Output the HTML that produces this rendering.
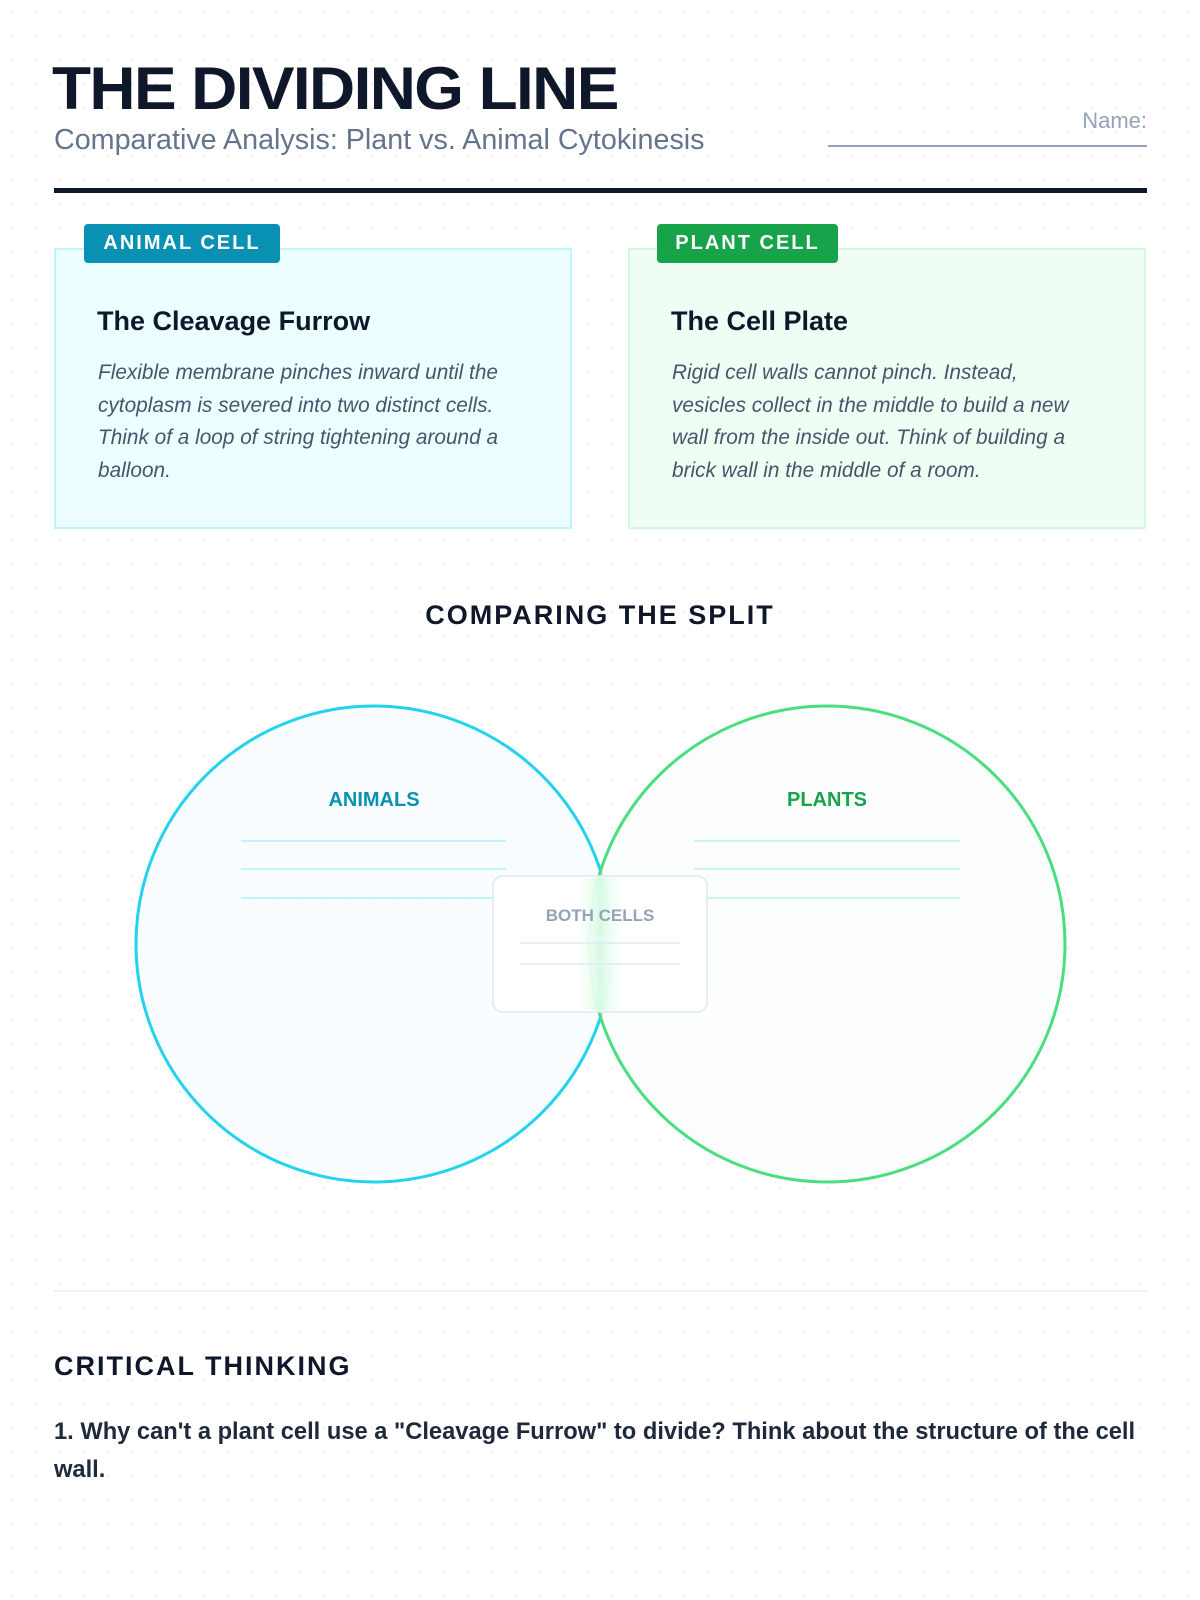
<!DOCTYPE html>
<html><head><meta charset="utf-8"><style>
*{margin:0;padding:0;box-sizing:border-box}
body{width:1200px;height:1600px;position:relative;background:#fff;background-image:radial-gradient(#e8ecf1 1px,transparent 1.2px);background-size:24px 24px;font-family:"Liberation Sans",sans-serif;overflow:hidden}
.a{position:absolute;white-space:nowrap}
.card{position:absolute;top:248px;height:281px;width:518px;border:2px solid}
.badge{position:absolute;top:224px;height:39px;border-radius:4px;color:#fff;font-weight:bold;font-size:20px;letter-spacing:2px;line-height:39px;text-align:center}
.h{font-weight:bold;font-size:27px;color:#0f172a}
.body{font-style:italic;font-size:20.8px;color:#475569;line-height:32.5px;white-space:normal;width:420px}
</style></head><body>
<div class="a" style="left:52px;top:54px;font-size:60px;font-weight:900;letter-spacing:-1.5px;color:#0f172a;transform:scaleX(1.065);transform-origin:left">THE DIVIDING LINE</div>
<div class="a" style="left:54px;top:124px;font-size:28.7px;color:#64748b">Comparative Analysis: Plant vs. Animal Cytokinesis</div>
<div class="a" style="right:53px;top:108px;font-size:22px;color:#94a3b8">Name:</div>
<div class="a" style="left:828px;top:145px;width:319px;height:2px;background:#94a3b8"></div>
<div class="a" style="left:54px;top:188px;width:1093px;height:5px;background:#0f172a"></div>

<div class="card" style="left:54px;background:#ecfeff;border-color:#bff5fb"></div>
<div class="badge" style="left:84px;width:196px;background:#0891b2">ANIMAL CELL</div>
<div class="a h" style="left:97px;top:306px">The Cleavage Furrow</div>
<div class="a body" style="left:98px;top:357px">Flexible membrane pinches inward until the cytoplasm is severed into two distinct cells. Think of a loop of string tightening around a balloon.</div>

<div class="card" style="left:628px;background:#f0fdf4;border-color:#d1fae0"></div>
<div class="badge" style="left:657px;width:181px;background:#16a34a">PLANT CELL</div>
<div class="a h" style="left:671px;top:306px">The Cell Plate</div>
<div class="a body" style="left:672px;top:357px">Rigid cell walls cannot pinch. Instead,<br>vesicles collect in the middle to build a new<br>wall from the inside out. Think of building a<br>brick wall in the middle of a room.</div>

<div class="a" style="left:0;width:1200px;text-align:center;top:600px;font-size:27px;font-weight:bold;letter-spacing:2px;color:#0f172a">COMPARING THE SPLIT</div>

<svg class="a" style="left:0;top:0" width="1200" height="1600">
<defs><linearGradient id="g" x1="0" x2="1"><stop offset="0" stop-color="#dcfce7" stop-opacity="0"/><stop offset=".5" stop-color="#bbf7d0" stop-opacity=".6"/><stop offset="1" stop-color="#dcfce7" stop-opacity="0"/></linearGradient></defs>
<circle cx="374" cy="944" r="238" fill="#f8fdff" fill-opacity=".8" stroke="#22d3ee" stroke-width="3"/>
<circle cx="827" cy="944" r="238" fill="#f8fefa" fill-opacity=".6" stroke="#4ade80" stroke-width="3"/>
<g stroke-width="1.5">
<line x1="241" x2="506" y1="841" y2="841" stroke="#a5f3fc"/><line x1="241" x2="506" y1="869" y2="869" stroke="#a5f3fc"/><line x1="241" x2="506" y1="898" y2="898" stroke="#a5f3fc"/>
<line x1="694" x2="960" y1="841" y2="841" stroke="#bbf7d0"/><line x1="694" x2="960" y1="869" y2="869" stroke="#bbf7d0"/><line x1="694" x2="960" y1="898" y2="898" stroke="#bbf7d0"/>
</g>
<rect x="493" y="876" width="214" height="136" rx="10" fill="#fff" fill-opacity=".93" stroke="#e2e8f0" stroke-width="1.5"/>
<rect x="578" y="878" width="44" height="132" fill="url(#g)"/>
<line x1="520" x2="680" y1="943" y2="943" stroke="#e2e8f0" stroke-width="1.5"/>
<line x1="520" x2="680" y1="964" y2="964" stroke="#e2e8f0" stroke-width="1.5"/>
<text x="374" y="806" text-anchor="middle" font-family="Liberation Sans" font-weight="bold" font-size="20" fill="#0891b2">ANIMALS</text>
<text x="827" y="806" text-anchor="middle" font-family="Liberation Sans" font-weight="bold" font-size="20" fill="#16a34a">PLANTS</text>
<text x="600" y="921" text-anchor="middle" font-family="Liberation Sans" font-weight="bold" font-size="17" fill="#94a3b8">BOTH CELLS</text>
</svg>

<div class="a" style="left:54px;top:1290px;width:1093px;height:2px;background:#eef2f6"></div>
<div class="a" style="left:54px;top:1351px;font-size:27px;font-weight:bold;letter-spacing:2px;color:#0f172a">CRITICAL THINKING</div>
<div class="a" style="left:54px;top:1413px;width:1110px;white-space:normal;font-size:23.7px;font-weight:bold;line-height:38px;color:#1e293b">1. Why can't a plant cell use a "Cleavage Furrow" to divide? Think about the structure of the cell wall.</div>
</body></html>
